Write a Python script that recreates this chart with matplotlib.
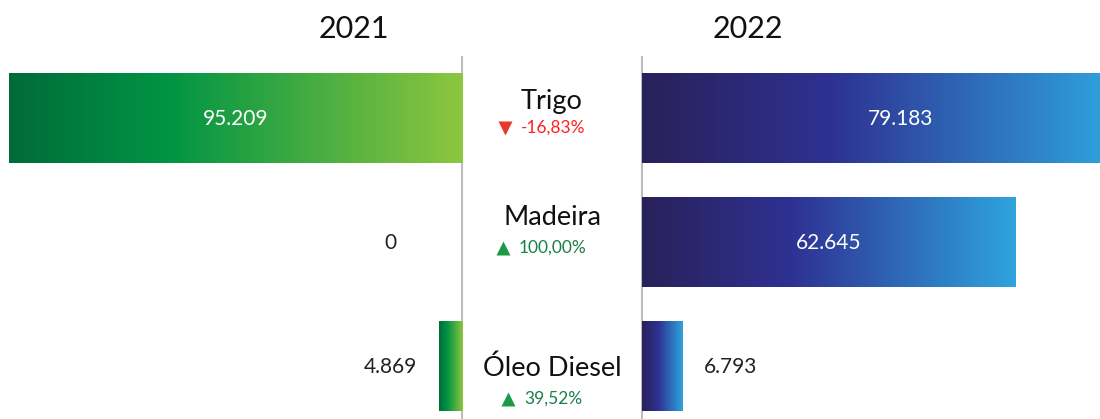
import matplotlib.pyplot as plt
import numpy as np
from matplotlib.colors import LinearSegmentedColormap

categories = ["Trigo", "Madeira", "Óleo Diesel"]
years = ["2021", "2022"]
values_2021 = [95.209, 0, 4.869]
values_2022 = [79.183, 62.645, 6.793]
labels_2021 = ["95.209", "0", "4.869"]
labels_2022 = ["79.183", "62.645", "6.793"]
change_values = [-16.83, 100.00, 39.52]
change_labels = ["-16,83%", "100,00%", "39,52%"]

plt.rcParams['font.family'] = ['Lato', 'DejaVu Sans']

W, H = 1100, 419
greens = LinearSegmentedColormap.from_list("g", [(0, "#006b3a"), (0.35, "#009444"), (1, "#8dc63f")])
blues = LinearSegmentedColormap.from_list("b", [(0, "#29215a"), (0.4, "#2e3192"), (1, "#2fa4dd")])
grad = np.linspace(0, 1, 256).reshape(1, -1)

# row layout (pixel based)
row_px = 124.0
y_top = -118.5 / row_px
y_bot = (H - 118.5) / row_px
bar_h = 0.72
name_off = [-17.5, -25, 2]
pct_off = [9, 5, 32]

fig = plt.figure(figsize=(W / 100, H / 100), dpi=100)


def make_ax(x0, x1):
    ax = fig.add_axes([x0 / W, 0, (x1 - x0) / W, 1])
    ax.axis("off")
    return ax


ax_l = make_ax(0, 462)
ax_m = make_ax(462, 642)
ax_r = make_ax(642, 1100)

line_top = (57 - 118.5) / row_px

# left (2021)
for i, v in enumerate(values_2021):
    if v > 0:
        ax_l.imshow(grad, cmap=greens, aspect="auto",
                    extent=[v, 0, i + bar_h / 2, i - bar_h / 2], zorder=2)
    if v > 20:
        ax_l.text(v / 2, i, labels_2021[i], color="white", fontsize=15,
                  ha="center", va="center", zorder=3)
    else:
        ax_l.text(15.1, i, labels_2021[i], color="#222222", fontsize=15,
                  ha="center", va="center", zorder=3)
ax_l.plot([0, 0], [line_top, y_bot], color="#bdbdbd", lw=1.5, clip_on=False, zorder=1)
ax_l.set_xlim(462 / 4.76, 0)
ax_l.set_ylim(y_bot, y_top)

# right (2022)
sc_r = 5.97
x_max_r = 458 / sc_r
for i, v in enumerate(values_2022):
    ax_r.imshow(grad, cmap=blues, aspect="auto",
                extent=[0, v, i + bar_h / 2, i - bar_h / 2], zorder=2)
    if v > 20:
        ax_r.text(v / 2 + max(0, v - x_max_r) * 1.5, i, labels_2022[i], color="white",
                  fontsize=15, ha="center", va="center", zorder=3)
    else:
        ax_r.text(v + 21 / sc_r, i, labels_2022[i], color="#222222", fontsize=15,
                  ha="left", va="center", zorder=3)
ax_r.plot([0, 0], [line_top, y_bot], color="#bdbdbd", lw=1.5, clip_on=False, zorder=1)
ax_r.set_xlim(0, x_max_r)
ax_r.set_ylim(y_bot, y_top)

# middle labels
ax_m.set_xlim(462, 642)
ax_m.set_ylim(y_bot, y_top)
pct_texts = []
for i, name in enumerate(categories):
    ax_m.text(552, i + name_off[i] / row_px, name, fontsize=19.5, color="#111111",
              ha="center", va="center")
    up = change_values[i] >= 0
    t = ax_m.text(553, i + pct_off[i] / row_px, change_labels[i], fontsize=12.5,
                  color="#1b7f4a" if up else "#ff2020", ha="center", va="center")
    pct_texts.append((t, up, i))

# year titles
fig.text(353.5 / W, 1 - 29 / H, years[0], fontsize=22, ha="center", va="center", color="#111111")
fig.text(748 / W, 1 - 29 / H, years[1], fontsize=22, ha="center", va="center", color="#111111")

# triangles placed just left of each percentage label
fig.canvas.draw()
r = fig.canvas.get_renderer()
for t, up, i in pct_texts:
    bb = t.get_window_extent(r)
    xd = ax_m.transData.inverted().transform((bb.x0 - 16, 0))[0]
    ax_m.plot(xd, i + pct_off[i] / row_px, marker="^" if up else "v", ms=10.5,
              color="#1a9a48" if up else "#e4392a", mec="none", clip_on=False)

fig.savefig("out.png", dpi=100)
